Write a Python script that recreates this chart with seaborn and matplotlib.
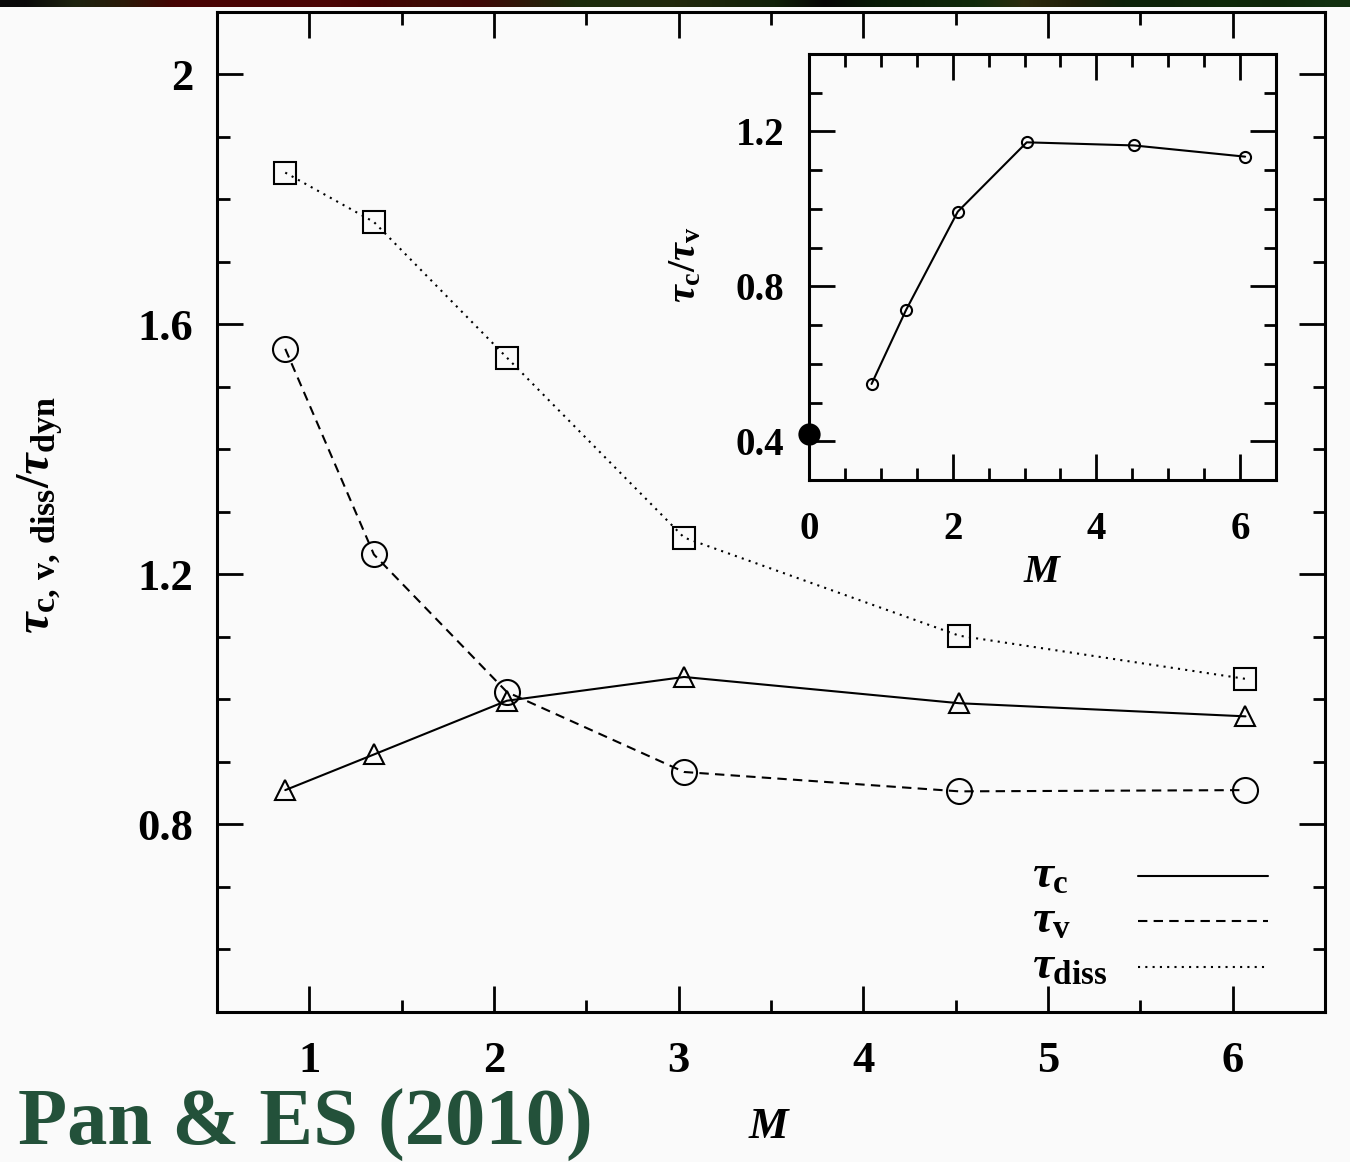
import numpy as np
import seaborn as sns
import matplotlib.pyplot as plt
from matplotlib.ticker import MultipleLocator

# Data (Pan & Scannapieco 2010)
mach = [0.87, 1.35, 2.07, 3.03, 4.52, 6.07]
tau_c = [0.855, 0.912, 0.998, 1.036, 0.994, 0.973]
tau_v = [1.561, 1.232, 1.012, 0.884, 0.853, 0.855]
tau_diss = [1.843, 1.764, 1.547, 1.259, 1.102, 1.033]
ratio_cv = [0.548, 0.739, 0.993, 1.172, 1.164, 1.135]
hydro_m = [0.0]
hydro_ratio = [0.42]

legend_labels = [r'$\tau_{\rm c}$', r'$\tau_{\rm v}$', r'$\tau_{\rm diss}$']

sns.set_theme(style='ticks')
plt.rcParams['font.family'] = ['Liberation Serif', 'DejaVu Serif']
plt.rcParams['font.weight'] = 'bold'
plt.rcParams['text.color'] = 'black'
plt.rcParams['mathtext.fontset'] = 'custom'
plt.rcParams['mathtext.rm'] = 'Liberation Serif:bold'
plt.rcParams['mathtext.it'] = 'Liberation Serif:italic:bold'
plt.rcParams['mathtext.bf'] = 'Liberation Serif:bold'

bg = '#fafafa'
fig = plt.figure(figsize=(13.5, 11.62), dpi=100, facecolor=bg)

# dark strip along the top edge of the screenshot
strip = fig.add_axes([0, 1 - 7 / 1162, 1, 7 / 1162])
strip_cols = ['#0a0a0a', '#1e2410', '#2a1a08', '#460303', '#4a0404', '#480303',
              '#4c0505', '#440202', '#3e0a04', '#400606', '#2e1808', '#1a2a0a',
              '#1e2a0c', '#22280c', '#1a240a', '#102008', '#060606', '#081a06',
              '#0c2208', '#102a0a', '#2c2a0e', '#201e08', '#0c2208', '#0e2408',
              '#102a0a', '#0e2608', '#123010']
rgb = np.array([[int(c[i:i + 2], 16) / 255 for i in (1, 3, 5)] for c in strip_cols])
strip.imshow(rgb[np.newaxis, :, :], aspect='auto', interpolation='bilinear')
strip.axis('off')

ax = fig.add_axes([0.1607, 0.1291, 0.8207, 0.8606], facecolor=bg)

lw = 1.5
mew = 1.5
styles = ['-', (0, (4.5, 3)), (0, (1, 2.5))]
sns.lineplot(x=mach, y=tau_c, ax=ax, color='black', linewidth=lw, linestyle=styles[0],
             marker='^', markersize=15, markerfacecolor='none',
             markeredgecolor='black', markeredgewidth=mew)
sns.lineplot(x=mach, y=tau_v, ax=ax, color='black', linewidth=lw, linestyle=styles[1],
             marker='o', markersize=18, markerfacecolor='none',
             markeredgecolor='black', markeredgewidth=mew)
sns.lineplot(x=mach, y=tau_diss, ax=ax, color='black', linewidth=lw, linestyle=styles[2],
             marker='s', markersize=16, markerfacecolor='none',
             markeredgecolor='black', markeredgewidth=mew)

ax.set_xlim(0.5, 6.5)
ax.set_ylim(0.5, 2.1)
ax.set_xticks([1, 2, 3, 4, 5, 6])
ax.set_xticklabels(['1', '2', '3', '4', '5', '6'])
ax.xaxis.set_minor_locator(MultipleLocator(0.5))
ax.set_yticks([0.8, 1.2, 1.6, 2.0])
ax.set_yticklabels(['0.8', '1.2', '1.6', '2'])
ax.yaxis.set_minor_locator(MultipleLocator(0.1))
ax.tick_params(which='both', direction='in', top=True, right=True, width=2,
               color='black', labelcolor='black')
ax.tick_params(which='major', length=19, labelsize=32)
ax.tick_params(axis='x', which='major', pad=21)
ax.tick_params(axis='y', which='major', pad=17)
ax.tick_params(which='minor', length=9)
for s in ax.spines.values():
    s.set_linewidth(2.2)
    s.set_color('black')

ax.set_xlabel('')
ax.set_ylabel('')
fig.text(770 / 1350, 1 - 1127 / 1162, r'$M$', fontsize=32, ha='center', va='center')
fig.text(40 / 1350, 1 - 515 / 1162, r'$\tau_{\rm c,\,v,\,diss}/\tau_{\rm dyn}$', fontsize=35,
         rotation=90, ha='center', va='center')

# gnuplot-style key: label on the left, line sample on the right
key_y = [0.136, 0.091, 0.045]
for lab, ls, ky in zip(legend_labels, styles, key_y):
    ax.plot([0.831, 0.949], [ky, ky], transform=ax.transAxes, color='black',
            linewidth=lw, linestyle=ls)
    ax.text(0.736, ky - 0.012, lab, transform=ax.transAxes, fontsize=34,
            ha='left', va='baseline')

fig.text(18 / 1350, 1 - 1145 / 1162, 'Pan & ES (2010)', fontsize=58, color='#23513a',
         fontweight='bold', ha='left', va='baseline')

# inset: tau_c / tau_v
ins = fig.add_axes([0.5993, 0.5869, 0.3459, 0.3666], facecolor=bg)
sns.lineplot(x=mach, y=ratio_cv, ax=ins, color='black', linewidth=lw, linestyle='-',
             marker='o', markersize=8, markerfacecolor='none',
             markeredgecolor='black', markeredgewidth=1.5)
sns.scatterplot(x=hydro_m, y=hydro_ratio, ax=ins, color='black', s=220,
                edgecolor='black', zorder=5, clip_on=False)
ins.set_xlim(0, 6.5)
ins.set_ylim(0.3, 1.4)
ins.set_xticks([0, 2, 4, 6])
ins.xaxis.set_minor_locator(MultipleLocator(0.5))
ins.set_yticks([0.4, 0.8, 1.2])
ins.set_yticklabels(['0.4', '0.8', '1.2'])
ins.yaxis.set_minor_locator(MultipleLocator(0.1))
ins.tick_params(which='both', direction='in', top=True, right=True, width=2,
                color='black', labelcolor='black')
ins.tick_params(which='major', length=19, labelsize=28)
ins.tick_params(axis='x', which='major', pad=22)
ins.tick_params(axis='y', which='major', pad=18)
ins.tick_params(which='minor', length=9)
for s in ins.spines.values():
    s.set_linewidth(2.2)
    s.set_color('black')
ins.set_xlabel('')
ins.set_ylabel('')
fig.text(1043 / 1350, 1 - 572 / 1162, r'$M$', fontsize=29, ha='center', va='center')
fig.text(686 / 1350, 1 - 265 / 1162, r'$\tau_{\rm c}/\tau_{\rm v}$', fontsize=29,
         rotation=90, ha='center', va='center')

fig.savefig('out.png', dpi=100, facecolor=bg)
